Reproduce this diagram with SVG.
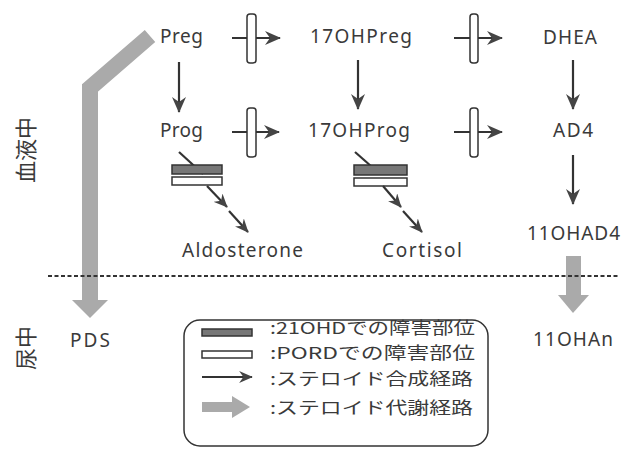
<svg xmlns="http://www.w3.org/2000/svg" width="622" height="449" viewBox="0 0 622 449">
<style>
.lbl{font-family:"Noto Sans","Open Sans",sans-serif;font-size:19px;fill:#3a3a3a}
.jp{font-family:"Noto Sans CJK JP","Noto Sans",sans-serif;font-size:16.5px;fill:#3a3a3a}
.side{font-family:"Noto Sans CJK JP",sans-serif;font-size:22px;fill:#3a3a3a}
.ar{stroke:#333;stroke-width:2.2;fill:none;marker-end:url(#ah)}
.ars{stroke:#333;stroke-width:2.2;fill:none;marker-end:url(#ahs)}
.bar{fill:#fff;stroke:#333;stroke-width:1.5}
.blk{fill:#777;stroke:#333;stroke-width:1.5}
.gray{fill:#aaa}
</style>
<defs>
<marker id="ah" viewBox="0 0 16 14" refX="15" refY="7" markerWidth="16" markerHeight="14" markerUnits="userSpaceOnUse" orient="auto">
<path d="M0,0 L16,7 L0,14 L5,7 z" fill="#444"/>
</marker>
<marker id="ahs" viewBox="0 0 16 14" refX="15" refY="7" markerWidth="14" markerHeight="12" markerUnits="userSpaceOnUse" orient="auto">
<path d="M0,0 L16,7 L0,14 L5,7 z" fill="#444"/>
</marker>
</defs>
<rect width="622" height="449" fill="#fff"/>

<g id="metabolic-arrows">
<polyline points="150,36 90,88 90,301" fill="none" stroke="#aaa" stroke-width="16" stroke-linejoin="miter"/>
<polygon class="gray" points="72,300 108,300 90,318"/>
<rect class="gray" x="566" y="256" width="15" height="40"/>
<polygon class="gray" points="558,295 589,295 573,313"/>
</g>

<g id="divider">
<line x1="48" y1="276" x2="619" y2="276" stroke="#333" stroke-width="2" stroke-dasharray="4 2.5"/>
</g>

<g id="connectors">
<line class="ar" x1="179" y1="62" x2="179" y2="112"/>
<line class="ar" x1="358" y1="60" x2="358" y2="109"/>
<line class="ar" x1="573" y1="60" x2="573" y2="109"/>
<line class="ar" x1="573" y1="155" x2="573" y2="204"/>
<line class="ar" x1="232" y1="38" x2="280" y2="38"/>
<rect class="bar" x="247" y="14" width="9" height="49" rx="3"/>
<line class="ar" x1="454" y1="38" x2="502" y2="38"/>
<rect class="bar" x="470" y="14" width="8" height="49" rx="3"/>
<line class="ar" x1="232" y1="132" x2="279" y2="132"/>
<rect class="bar" x="247" y="108" width="9" height="49" rx="3"/>
<line class="ar" x1="454" y1="132" x2="502" y2="132"/>
<rect class="bar" x="470" y="108" width="8" height="49" rx="3"/>
<line x1="179" y1="152" x2="203" y2="174" stroke="#333" stroke-width="2.2"/>
<rect class="blk" x="172" y="165" width="50" height="9"/>
<rect class="bar" x="172" y="177" width="50" height="8"/>
<line class="ars" x1="207" y1="186" x2="227" y2="207"/>
<line class="ars" x1="229" y1="211" x2="248" y2="232"/>
<line x1="355" y1="152" x2="380" y2="174" stroke="#333" stroke-width="2.2"/>
<rect class="blk" x="354" y="165" width="53" height="10"/>
<rect class="bar" x="354" y="178" width="53" height="8"/>
<line class="ars" x1="383" y1="186" x2="401" y2="207"/>
<line class="ars" x1="403" y1="211" x2="422" y2="232"/>
</g>

<g id="node-preg"><text class="lbl" x="160" y="43" textLength="43">Preg</text></g>
<g id="node-17ohpreg"><text class="lbl" x="310" y="43" textLength="102">17OHPreg</text></g>
<g id="node-dhea"><text class="lbl" x="543" y="44" textLength="54">DHEA</text></g>
<g id="node-prog"><text class="lbl" x="160" y="137" textLength="43">Prog</text></g>
<g id="node-17ohprog"><text class="lbl" x="308" y="137" textLength="102">17OHProg</text></g>
<g id="node-ad4"><text class="lbl" x="553" y="137" textLength="40">AD4</text></g>
<g id="node-aldosterone"><text class="lbl" x="182" y="257" textLength="121">Aldosterone</text></g>
<g id="node-cortisol"><text class="lbl" x="382" y="257" textLength="80">Cortisol</text></g>
<g id="node-11ohad4"><text class="lbl" x="527" y="240" textLength="93">11OHAD4</text></g>
<g id="node-pds"><text class="lbl" x="70" y="347" textLength="40">PDS</text></g>
<g id="node-11ohan"><text class="lbl" x="533" y="346" textLength="80">11OHAn</text></g>

<g id="side-labels">
<text class="side" transform="translate(34,150) rotate(-90)" text-anchor="middle">血液中</text>
<text class="side" transform="translate(34,348) rotate(-90)" text-anchor="middle">尿中</text>
</g>

<g id="legend">
<rect x="184" y="320" width="304" height="126" rx="16" fill="none" stroke="#333" stroke-width="1.5"/>
<rect class="blk" x="202" y="329" width="50" height="7"/>
<text class="jp" x="270" y="334" textLength="205" lengthAdjust="spacingAndGlyphs">:21OHDでの障害部位</text>
<rect class="bar" x="202" y="351" width="50" height="7"/>
<text class="jp" x="270" y="359" textLength="205" lengthAdjust="spacingAndGlyphs">:PORDでの障害部位</text>
<line class="ars" x1="202" y1="377" x2="252" y2="377"/>
<text class="jp" x="270" y="385" textLength="203" lengthAdjust="spacingAndGlyphs">:ステロイド合成経路</text>
<rect class="gray" x="202" y="402" width="31" height="10"/>
<polygon class="gray" points="232,396 250,407 232,418"/>
<text class="jp" x="270" y="414" textLength="203" lengthAdjust="spacingAndGlyphs">:ステロイド代謝経路</text>
</g>
</svg>
